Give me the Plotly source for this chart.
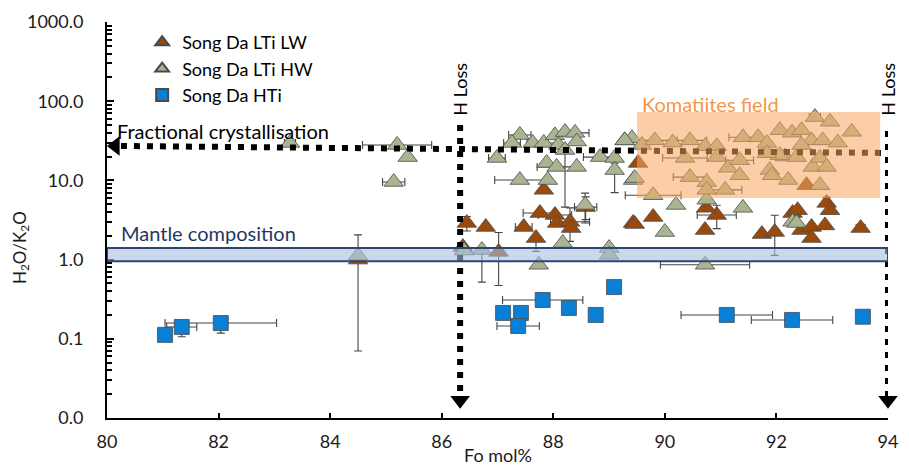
import math
import plotly.graph_objects as go

# ---------------- data ----------------
# Song Da HTi (blue squares)
hti_x = [81.04, 81.34, 82.04, 87.10, 87.42, 87.37, 87.81, 88.28, 88.76, 89.09, 91.11, 92.28, 93.55]
hti_y = [0.112, 0.141, 0.158, 0.212, 0.212, 0.145, 0.309, 0.245, 0.200, 0.45, 0.20, 0.173, 0.19]
hti_xerr = [0, 0.27, 1.0, 0, 0, 0.38, 0.72, 0, 0, 0, 0.82, 0.73, 0]
hti_yerr_p = [0, 0.03, 0, 0, 0, 0, 0, 0, 0, 0, 0, 0, 0]
hti_yerr_m = [0, 0.035, 0.04, 0, 0, 0, 0, 0, 0, 0, 0, 0, 0]

# Song Da LTi LW (brown triangles)
lw_x = [84.50, 86.45, 86.79, 87.47, 87.69, 87.76, 87.83, 88.03, 88.07, 88.30, 88.32, 88.58,
        89.43, 89.52, 86.38, 87.02, 89.46, 89.79, 90.72, 90.93, 90.74, 91.74, 91.97, 92.29,
        92.38, 92.45, 92.63, 92.63, 92.87, 92.90, 92.96, 92.54, 93.51]
lw_y = [1.00, 2.90, 2.58, 2.58, 1.87, 3.87, 7.6, 3.66, 2.90, 3.00, 2.50, 4.6,
        2.90, 16.6, 1.44, 1.25, 2.81, 3.45, 2.36, 3.66, 4.5, 2.10, 2.23, 3.87,
        4.2, 2.36, 2.58, 1.87, 2.70, 5.2, 4.2, 8.7, 2.5]
lw_xerr = [0, 0, 0, 0.15, 0, 0.30, 0, 0.30, 0, 0.35, 0, 0.2,
           0, 0, 0, 0, 0, 0, 0, 0.35, 0, 0, 0, 0,
           0, 0, 0, 0, 0, 0, 0, 0, 0.08]
lw_yerr_p = [1.05, 0.6, 0, 0, 0, 0, 0, 0, 0, 1.5, 0, 1.6,
             0, 0, 0, 0.95, 0, 0, 0, 1.2, 0, 0, 1.4, 0,
             0, 0, 0, 0, 0, 0.9, 0, 0, 0.3]
lw_yerr_m = [0.93, 0.6, 0, 0, 0.6, 0, 0, 0, 0, 1.3, 0, 1.4,
             0, 0, 0, 0.78, 0, 0, 0, 1.2, 0, 0, 1.1, 0,
             0, 0, 0, 0, 0, 0, 0, 0, 0]

# Song Da LTi HW (grey-green triangles)
hw_x = [83.28, 85.20, 85.39, 85.14, 84.50,
        87.40, 87.26, 87.63, 87.83, 88.03, 88.21, 88.39, 88.42, 88.09, 88.21,
        86.99, 87.88, 88.06, 88.42, 88.84, 89.10, 89.10, 89.28, 89.41, 87.40,
        87.90, 88.57, 89.43, 87.74, 86.72, 88.17, 89.00, 89.00, 86.40,
        89.28, 89.46, 89.79, 90.20, 90.00, 90.75, 91.40, 90.72, 92.29, 92.36,
        89.59, 89.82, 90.14, 90.45, 90.72, 90.93, 90.36, 90.93, 91.13, 91.34,
        91.34, 90.45, 90.75, 90.75, 91.08, 91.40, 91.67, 91.83, 92.06, 92.28,
        92.45, 92.69, 92.96, 92.63, 92.83, 93.10, 93.35, 91.88, 91.92, 92.21,
        92.15, 92.36, 92.65, 92.78, 92.78, 92.90, 92.45, 92.06, 91.83]
hw_y = [29.7, 28.0, 19.7, 9.55, 1.12,
        37.4, 29.7, 29.7, 29.7, 37.0, 40.8, 39.8, 31.0, 28.0, 24.2,
        19.2, 16.6, 14.8, 14.8, 19.7, 19.2, 13.5, 32.0, 34.0, 10.1,
        10.1, 4.9, 10.1, 0.86, 1.32, 1.62, 1.40, 1.15, 1.30,
        32.0, 10.7, 6.5, 4.9, 2.23, 5.7, 4.5, 0.86, 3.0, 2.9,
        28.0, 32.0, 30.0, 32.0, 27.0, 27.0, 19.2, 19.7, 14.4, 18.0,
        11.6, 11.0, 9.5, 7.6, 7.6, 35.0, 35.0, 29.7, 43.0, 40.0,
        43.0, 63.0, 55.0, 32.0, 32.0, 30.0, 41.0, 13.5, 11.6, 10.1,
        20.0, 19.7, 14.8, 8.7, 19.2, 14.8, 28.0, 20.8, 22.0]
hw_xerr = [0.1, 0.62, 0, 0.2, 0,
           0.2, 0.15, 0, 0.3, 0, 0.2, 0.25, 0, 0, 0,
           0.15, 0, 0.35, 0, 0.3, 0, 0, 0, 0, 0.45,
           0, 0, 0, 0, 0, 0, 0, 0, 0,
           0, 0, 0.5, 0, 0, 0, 0, 0.8, 0, 0,
           0, 0.4, 0, 0.3, 0, 0, 0.4, 0, 0, 0.25,
           0, 0.3, 0, 0, 0.3, 0.25, 0, 0, 0, 0,
           0, 0.1, 0, 0, 0, 0, 0, 0, 0, 0,
           0, 0, 0, 0, 0, 0, 0, 0, 0]
hw_yerr_p = [0] * 5 + [0] * 10 + [0] * 5 + [0, 3.0, 0, 0, 0] + [0, 2.0, 0, 0, 0, 0, 0, 0, 0] + [0] * 10 + [0] * 10 + [0] * 10 + [0] * 10 + [0] * 9
hw_yerr_m = [0] * 5 + [0, 0, 0, 0, 0, 0, 0, 0, 0, 19.6] + [0] * 5 + [0, 6.5, 0, 0, 0] + [0, 2.0, 0, 0, 0.8, 0, 0, 0, 0] + [0] * 10 + [0] * 10 + [0] * 10 + [0] * 10 + [0] * 9

# axis ticks
x_ticks = [80, 82, 84, 86, 88, 90, 92, 94]
y_tickvals = [0.01, 0.1, 1, 10, 100, 1000]
y_ticktext = ["0.0", "0.1", "1.0", "10.0", "100.0", "1000.0"]
y_minor = [k * 10 ** e for e in range(-2, 3) for k in range(2, 10)]

# reference fields / guide lines
mantle_band = (0.95, 1.4)
komatiite_x = (89.5, 93.86)
komatiite_y = (6.0, 73.0)
fc_line_x = [80.25, 94.0]
fc_line_y = [27.2, 22.2]
hloss_x = [86.33, 94.0]
hloss_top = [50.0, 42.0]
hloss_bottom = 0.0168

# label positions (data units)
fc_label = (80.15, 42.0)
mantle_label = (80.22, 2.17)
komatiite_label = (89.55, 92.0)
hloss_label_y = 140.0

# ---------------- figure ----------------
FONT = "Lato, 'Noto Sans', sans-serif"
C_LW = "#9c4a0c"
C_HW = "#a9b592"
C_HTI = "#0a7fd6"
EDGE = "#4a4a4a"
ERR = "#454545"
FS = 18
FS_NOTE = 20

fig = go.Figure()


def err(arr_p, arr_m=None):
    d = dict(type="data", array=arr_p, color=ERR, thickness=1.1, width=4, visible=True)
    if arr_m is not None:
        d["symmetric"] = False
        d["arrayminus"] = arr_m
    return d


fig.add_trace(go.Scatter(
    x=lw_x, y=lw_y, mode="markers", name="Song Da LTi LW",
    marker=dict(symbol="triangle-up", size=17, color=C_LW, line=dict(color=EDGE, width=0.8)),
    error_x=err(lw_xerr), error_y=err(lw_yerr_p, lw_yerr_m)))
fig.add_trace(go.Scatter(
    x=hw_x, y=hw_y, mode="markers", name="Song Da LTi HW",
    marker=dict(symbol="triangle-up", size=17, color=C_HW, line=dict(color=EDGE, width=0.8)),
    error_x=err(hw_xerr), error_y=err(hw_yerr_p, hw_yerr_m)))
fig.add_trace(go.Scatter(
    x=hti_x, y=hti_y, mode="markers", name="Song Da HTi",
    marker=dict(symbol="square", size=15, color=C_HTI, line=dict(color=EDGE, width=0.8)),
    error_x=err(hti_xerr), error_y=err(hti_yerr_p, hti_yerr_m)))

DOT = "6px,7px"
# fractional crystallisation line + arrowhead
fig.add_trace(go.Scatter(x=fc_line_x, y=fc_line_y, mode="lines", showlegend=False,
                         line=dict(color="black", width=6, dash=DOT), hoverinfo="skip"))
fig.add_trace(go.Scatter(x=[fc_line_x[0] - 0.1], y=[fc_line_y[0]], mode="markers", showlegend=False,
                         marker=dict(symbol="triangle-left", size=17, color="black"),
                         cliponaxis=False, hoverinfo="skip"))
# H loss lines + arrowheads
for hx, ht in zip(hloss_x, hloss_top):
    fig.add_trace(go.Scatter(x=[hx, hx], y=[ht, hloss_bottom], mode="lines", showlegend=False,
                             line=dict(color="black", width=6, dash=DOT), hoverinfo="skip",
                             cliponaxis=False))
    fig.add_trace(go.Scatter(x=[hx], y=[hloss_bottom], mode="markers", showlegend=False,
                             marker=dict(symbol="triangle-down", size=17, color="black"),
                             cliponaxis=False, hoverinfo="skip"))
    fig.add_annotation(x=hx, y=math.log10(hloss_label_y), xref="x", yref="y", text="H Loss",
                       textangle=-90, showarrow=False,
                       font=dict(family=FONT, size=18, color="black"),
                       xanchor="center", yanchor="middle")

# shapes: mantle band and komatiites field (drawn above markers, semi-transparent)
fig.add_shape(type="rect", xref="x", yref="y", x0=80, x1=94, y0=mantle_band[0], y1=mantle_band[1],
              fillcolor="#a9bedd", opacity=0.6, line=dict(width=0), layer="above")
fig.add_shape(type="rect", xref="x", yref="y", x0=80, x1=94, y0=mantle_band[0], y1=mantle_band[1],
              fillcolor="rgba(0,0,0,0)", line=dict(color="#2c4772", width=2), layer="above")
fig.add_shape(type="rect", xref="x", yref="y", x0=komatiite_x[0], x1=komatiite_x[1],
              y0=komatiite_y[0], y1=komatiite_y[1],
              fillcolor="#f9a65e", opacity=0.55, line=dict(width=0), layer="above")

# text labels (annotation y on a log axis is given in log10 units)
fig.add_annotation(x=fc_label[0], y=math.log10(fc_label[1]), xref="x", yref="y",
                   text="Fractional crystallisation", showarrow=False,
                   xanchor="left", yanchor="middle",
                   font=dict(family=FONT, size=FS_NOTE, color="black"))
fig.add_annotation(x=mantle_label[0], y=math.log10(mantle_label[1]), xref="x", yref="y",
                   text="Mantle composition", showarrow=False,
                   xanchor="left", yanchor="middle",
                   font=dict(family=FONT, size=FS_NOTE, color="#1f3864"))
fig.add_annotation(x=komatiite_label[0], y=math.log10(komatiite_label[1]), xref="x", yref="y",
                   text="Komatiites field", showarrow=False,
                   xanchor="left", yanchor="middle",
                   font=dict(family=FONT, size=FS_NOTE, color="#f79646"))
fig.add_annotation(x=0.5, y=-0.094, xref="paper", yref="paper", text="Fo mol%",
                   showarrow=False, xanchor="center", yanchor="middle",
                   font=dict(family=FONT, size=18, color="#1a1a1a"))
fig.add_annotation(x=-0.111, y=0.43, xref="paper", yref="paper",
                   text="H<sub>2</sub>O/K<sub>2</sub>O", textangle=-90,
                   showarrow=False, xanchor="center", yanchor="middle",
                   font=dict(family=FONT, size=17, color="#1a1a1a"))

fig.update_layout(
    width=909, height=469,
    margin=dict(l=107, r=21, t=22, b=51, autoexpand=False),
    paper_bgcolor="white", plot_bgcolor="white",
    font=dict(family=FONT, size=FS, color="#1a1a1a"),
    showlegend=True,
    legend=dict(x=0.045, y=0.995, xanchor="left", yanchor="top", bgcolor="rgba(0,0,0,0)",
                font=dict(family=FONT, size=FS, color="black"), tracegroupgap=0,
                itemsizing="constant"),
    xaxis=dict(range=[80, 94], tickvals=x_ticks, ticktext=[str(v) for v in x_ticks],
               showline=True, linecolor="black", linewidth=2, ticks="inside", ticklen=5,
               tickwidth=2, tickcolor="black", showgrid=False, zeroline=False,
               ticklabelstandoff=6, automargin=False,
               tickfont=dict(family=FONT, size=FS, color="#1a1a1a")),
    yaxis=dict(type="log", range=[-2, 3], tickvals=y_tickvals, ticktext=y_ticktext,
               showline=True, linecolor="black", linewidth=2, ticks="inside", ticklen=7,
               tickwidth=2, tickcolor="black", showgrid=False, zeroline=False,
               ticklabelstandoff=18, automargin=False,
               minor=dict(tickmode="array", tickvals=y_minor, ticks="inside", ticklen=5,
                          tickwidth=1.5, tickcolor="black", showgrid=False),
               tickfont=dict(family=FONT, size=FS, color="#1a1a1a")),
)

fig.write_html("out.html")
